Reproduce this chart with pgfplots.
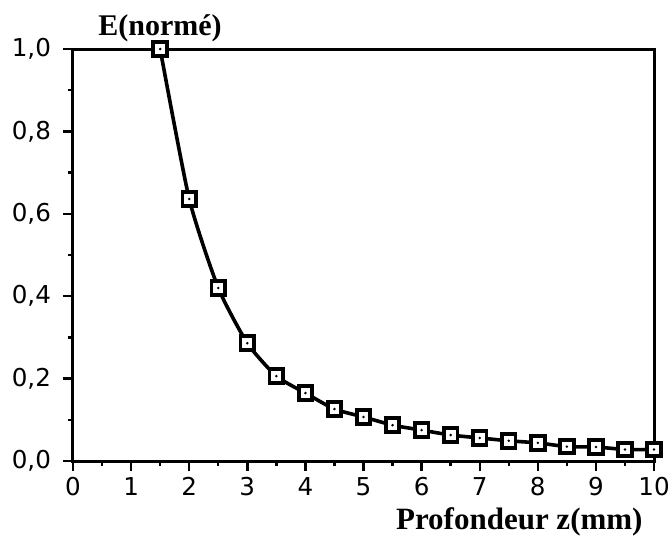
\documentclass[border=0pt]{standalone}
\usepackage{pgfplots}
\pgfplotsset{compat=1.18}
\usepackage{fontspec}
\setmainfont{Liberation Serif}
\newfontfamily\tickfont{DejaVu Sans}

\pgfdeclareplotmark{sqdot}{%
  \pgfpathrectangle{\pgfqpoint{-\pgfplotmarksize}{-\pgfplotmarksize}}{\pgfqpoint{2\pgfplotmarksize}{2\pgfplotmarksize}}%
  \pgfsetfillcolor{white}\pgfusepathqfillstroke
  \pgfpathcircle{\pgfpointorigin}{0.7pt}%
  \pgfsetfillcolor{black}\pgfusepathqfill
}

\begin{document}
\begin{tikzpicture}
\begin{axis}[
  at={(0,0)}, anchor=south west,
  scale only axis,
  width=290.5pt, height=206pt,
  xmin=0, xmax=10, ymin=0, ymax=1,
  axis line style={line width=1.5pt},
  every tick/.style={black, line width=1.2pt},
  tick align=outside,
  xtick={0,...,10},
  minor xtick={0.5,1.5,...,9.5},
  ytick={0,0.2,...,1.0},
  minor ytick={0.1,0.3,...,0.9},
  major tick length=5pt,
  minor tick length=2.6pt,
  xtick pos=bottom, ytick pos=left,
  ticklabel style={font=\tickfont\fontsize{12.3}{14}\selectfont},
  /pgf/number format/assume math mode=true,
  yticklabel style={xshift=-2.5pt, /pgf/number format/.cd, fixed, fixed zerofill, precision=1, use comma},
  xticklabel style={yshift=-2pt, inner sep=1pt},
  clip=false,
]
\addplot[black, line width=1.8pt, smooth, tension=0.35, mark=sqdot, mark size=3.4pt,
  mark options={line width=1.9pt, solid}]
  coordinates {
  (1.5,1.0) (2,0.636) (2.5,0.42) (3,0.286) (3.5,0.206) (4,0.165)
  (4.5,0.126) (5,0.107) (5.5,0.087) (6,0.075) (6.5,0.063) (7,0.056)
  (7.5,0.049) (8,0.044) (8.5,0.035) (9,0.034) (9.5,0.028) (10,0.028)
  };
\node[anchor=base west, font=\fontsize{15}{17}\selectfont\bfseries, inner sep=0pt]
  at (axis description cs:0.043,1.0325) {E(normé)};
\node[anchor=base east, font=\fontsize{15.5}{17}\selectfont\bfseries, inner sep=0pt]
  at (axis description cs:0.981,-0.167) {Profondeur z(mm)};
\end{axis}
\pgfresetboundingbox
\path (-36.5pt,-38pt) rectangle (299.5pt,230.5pt);
\end{tikzpicture}
\end{document}
